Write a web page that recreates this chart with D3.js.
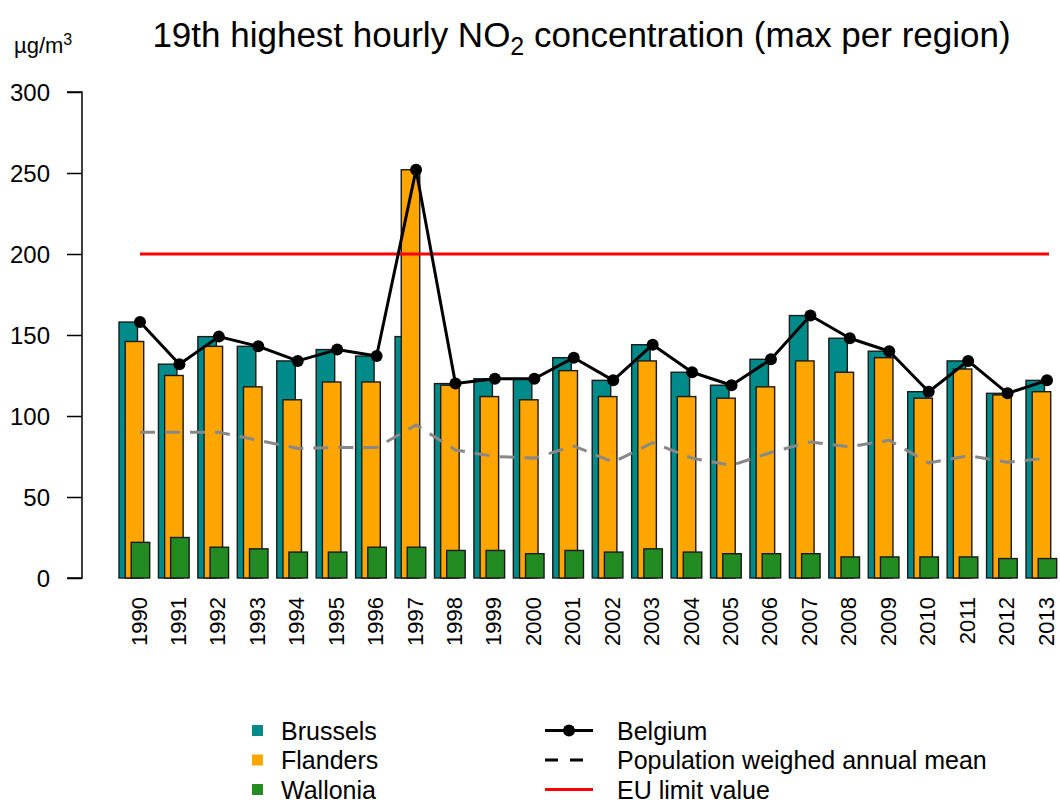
<!DOCTYPE html>
<html>
<head>
<meta charset="utf-8">
<script src="https://cdn.jsdelivr.net/npm/d3@7/dist/d3.min.js"></script>
<style>
  html, body { margin: 0; padding: 0; background: #ffffff; }
  svg text { font-family: "Liberation Sans", Arial, Helvetica, sans-serif; fill: #000; }
</style>
</head>
<body>
<svg id="chart" width="1060" height="803"></svg>
<script>
// Years on the x axis
const years = ["1990","1991","1992","1993","1994","1995","1996","1997","1998","1999","2000","2001",
               "2002","2003","2004","2005","2006","2007","2008","2009","2010","2011","2012","2013"];

// 19th highest hourly NO2 value, maximum over the stations of each region (µg/m³)
const brussels = [158,132,149,143,134,141,137,149,120,123,123,136,122,144,127,119,135,162,148,140,115,134,114,122];
const flanders = [146,125,143,118,110,121,121,252,119,112,110,128,112,134,112,111,118,134,127,136,111,129,113,115];
const wallonia = [22,25,19,18,16,16,19,19,17,17,15,17,16,18,16,15,15,15,13,13,13,13,12,12];

// Belgium: maximum over the three regions
const belgium = [158,132,149,143,134,141,137,252,120,123,123,136,122,144,127,119,135,162,148,140,115,134,114,122];

// Population weighed annual mean
const popMean = [90,90,90,85,80,80.5,80.5,94.5,79,75,74,81.5,71.5,83.5,74,69.5,77.5,84,81,85,71,75.5,71.5,74];

// EU limit value
const euLimit = 200;

const yTicks = [0, 50, 100, 150, 200, 250, 300];

const regions = [
  { name: "Brussels", values: brussels, color: "#008B8B" },
  { name: "Flanders", values: flanders, color: "#FFA500" },
  { name: "Wallonia", values: wallonia, color: "#228B22" }
];

const svg = d3.select("#chart");

const x = d3.scalePoint().domain(years).range([140, 1047]);
const y = d3.scaleLinear().domain([0, 300]).range([578, 92]);

// bar offsets relative to each year position (side by side with overlap)
const barW = 18.5;
const offsets = [-21, -14.8, -8.8];

// Bars, year by year so later regions sit on top of earlier ones
const gBars = svg.append("g");
years.forEach((yr, i) => {
  regions.forEach((r, k) => {
    gBars.append("rect")
      .attr("x", x(yr) + offsets[k])
      .attr("y", y(r.values[i]))
      .attr("width", barW)
      .attr("height", y(0) - y(r.values[i]))
      .attr("fill", r.color)
      .attr("stroke", "#1a1a1a")
      .attr("stroke-width", 1.4);
  });
});

// EU limit line
svg.append("line")
  .attr("x1", x(years[0])).attr("x2", x(years[years.length - 1]) + 2)
  .attr("y1", y(euLimit)).attr("y2", y(euLimit))
  .attr("stroke", "#FF0000").attr("stroke-width", 3);

// Population weighed annual mean (dashed grey)
const line = d3.line().x((d, i) => x(years[i])).y(d => y(d));
svg.append("path")
  .datum(popMean)
  .attr("d", line)
  .attr("fill", "none")
  .attr("stroke", "#888888")
  .attr("stroke-width", 3)
  .attr("stroke-dasharray", "15,10");

// Belgium line with points
svg.append("path")
  .datum(belgium)
  .attr("d", line)
  .attr("fill", "none")
  .attr("stroke", "#000")
  .attr("stroke-width", 3)
  .attr("stroke-linejoin", "round");
svg.append("g").selectAll("circle")
  .data(belgium)
  .join("circle")
  .attr("cx", (d, i) => x(years[i]))
  .attr("cy", d => y(d))
  .attr("r", 6)
  .attr("fill", "#000");

// Y axis
const yAxis = d3.axisLeft(y).tickValues(yTicks).tickSize(15).tickPadding(17).tickFormat(d3.format("d"));
const gy = svg.append("g").attr("transform", "translate(82,0)").call(yAxis);
gy.select(".domain").attr("d", `M-15,${y(300)}H0V${y(0)}H-15`).attr("stroke", "#000").attr("stroke-width", 1.5);
gy.selectAll(".tick line").attr("stroke", "#000").attr("stroke-width", 1.5);
gy.selectAll(".tick text")
  .attr("dy", null)
  .attr("font-size", 24)
  .attr("font-family", null)
  .attr("dominant-baseline", "central");

// X labels, rotated
svg.append("g").selectAll("text")
  .data(years)
  .join("text")
  .attr("transform", d => `translate(${x(d) - 1},597) rotate(-90)`)
  .attr("text-anchor", "end")
  .attr("dominant-baseline", "central")
  .attr("font-size", 22)
  .text(d => d);

// Unit
const unit = svg.append("text").attr("x", 14).attr("y", 53).attr("font-size", 22);
unit.append("tspan").text("µg/m");
unit.append("tspan").attr("font-size", 16).attr("dy", -8).text("3");

// Title
const title = svg.append("text")
  .attr("x", 581.5).attr("y", 47)
  .attr("font-size", 35)
  .attr("text-anchor", "middle");
title.append("tspan").text("19th highest hourly NO");
title.append("tspan").attr("font-size", 25).attr("dy", 8).text("2");
title.append("tspan").attr("dy", -8).text(" concentration (max per region)");

// Legend, left column: regions
const rowsY = [730.5, 760, 789.5];
regions.forEach((r, k) => {
  svg.append("rect")
    .attr("x", 252).attr("y", rowsY[k] - 5.5)
    .attr("width", 11).attr("height", 11)
    .attr("fill", r.color);
  svg.append("text")
    .attr("x", 281).attr("y", rowsY[k])
    .attr("font-size", 25)
    .attr("dominant-baseline", "central")
    .text(r.name);
});

// Legend, right column: lines
svg.append("line").attr("x1", 545).attr("x2", 593).attr("y1", rowsY[0]).attr("y2", rowsY[0])
  .attr("stroke", "#000").attr("stroke-width", 3);
svg.append("circle").attr("cx", 569).attr("cy", rowsY[0]).attr("r", 6).attr("fill", "#000");
svg.append("line").attr("x1", 545).attr("x2", 584).attr("y1", rowsY[1]).attr("y2", rowsY[1])
  .attr("stroke", "#000").attr("stroke-width", 3).attr("stroke-dasharray", "13,12");
svg.append("line").attr("x1", 545).attr("x2", 593).attr("y1", rowsY[2]).attr("y2", rowsY[2])
  .attr("stroke", "#FF0000").attr("stroke-width", 3);

const lineLabels = ["Belgium", "Population weighed annual mean", "EU limit value"];
lineLabels.forEach((t, k) => {
  svg.append("text")
    .attr("x", 617).attr("y", rowsY[k])
    .attr("font-size", 25)
    .attr("dominant-baseline", "central")
    .text(t);
});
</script>
</body>
</html>
